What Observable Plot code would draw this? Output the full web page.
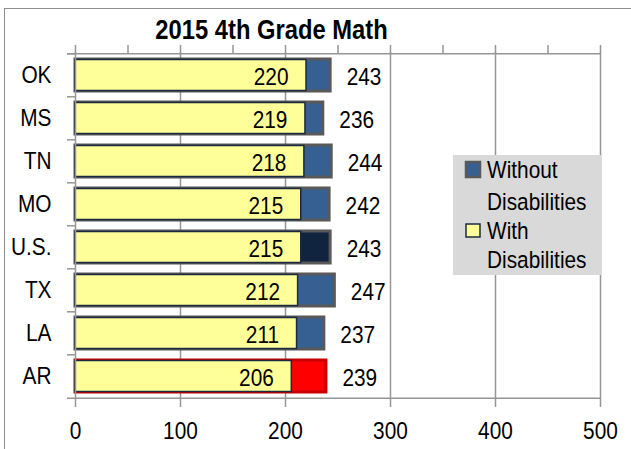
<!DOCTYPE html>
<html><head><meta charset="utf-8">
<script src="https://cdn.jsdelivr.net/npm/d3@7"></script>
<script src="https://cdn.jsdelivr.net/npm/@observablehq/plot@0.6"></script>
<style>
html,body{margin:0;padding:0;background:#fff;}
#wrap{position:relative;width:631px;height:449px;overflow:hidden;}
#border{position:absolute;left:4px;top:8px;width:700px;height:500px;border:1.5px solid #8f8f8f;}
#chart{position:absolute;left:0;top:0;}
</style></head><body>
<div id="wrap"><div id="border"></div><div id="chart"></div></div>
<script>
const states = ["OK", "MS", "TN", "MO", "U.S.", "TX", "LA", "AR"];
const withDisabilities = [220, 219, 218, 215, 215, 212, 211, 206];
const withoutDisabilities = [243, 236, 244, 242, 243, 247, 237, 239];
const xTicks = [0, 100, 200, 300, 400, 500];
const topTicks = [0, 50, 100, 150, 200, 250, 300, 350, 400, 450, 500];
const title = "2015 4th Grade Math";
const legendLabels = [["Without", "Disabilities"], ["With", "Disabilities"]];

const data = states.map((s, i) => ({state: s, with: withDisabilities[i], without: withoutDisabilities[i]}));
const FONT = "'Liberation Sans', Arial, sans-serif";
const W = 631, H = 449, mL = 75, mR = 31, mT = 52, mB = 50;
const step = (H - mT - mB) / states.length;
const GRID = "#969696";
const BLUE = "#366092", NAVY = "#10233F", RED = "#FF0000", YELLOW = "#FFFF99", EDGE = "#1B2A41";

const barFill = d => d.state === "U.S." ? NAVY : d.state === "AR" ? RED : BLUE;
const barStroke = d => d.state === "AR" ? "#C80000" : "#595959";
const last = states[states.length - 1];

const plot = Plot.plot({
  width: W, height: H, marginLeft: mL, marginRight: mR, marginTop: mT, marginBottom: mB,
  style: {fontFamily: FONT, fontSize: "24.5px", color: "#000", background: "transparent", overflow: "visible"},
  x: {domain: [0, 500]},
  y: {domain: states, paddingInner: 0.26, paddingOuter: 0.13, label: null},
  marks: [
    Plot.ruleX(xTicks.slice(1), {stroke: GRID, strokeWidth: 1.5}),
    Plot.axisX(topTicks, {anchor: "top", tickSize: 8, stroke: GRID, strokeWidth: 1.5, tickFormat: () => "", label: null}),
    Plot.axisX(xTicks, {anchor: "bottom", tickSize: 8, tickPadding: 14, stroke: GRID, strokeWidth: 1.5, fill: "#000", label: null}),
    Plot.axisY({anchor: "left", tickSize: 0, tickPadding: 24, fill: "#000", label: null}),
    Plot.ruleY(states, {y: d => d, dy: -step / 2, x1: 0, x2: 0, insetLeft: -8, stroke: GRID, strokeWidth: 1.5}),
    Plot.ruleY([states[0]], {y: d => d, dy: -step / 2, x1: 0, x2: 500, insetLeft: -8, stroke: GRID, strokeWidth: 1.5}),
    Plot.ruleY([last], {y: d => d, dy: step / 2, x1: 0, x2: 500, insetLeft: -8, stroke: GRID, strokeWidth: 1.5}),
    Plot.barX(data, {y: "state", x: "without", fill: barFill, stroke: barStroke, strokeWidth: 3}),
    Plot.barX(data, {y: "state", x: "with", fill: YELLOW, stroke: EDGE, strokeWidth: 1.5, insetTop: 0.5, insetBottom: 0.5}),
    Plot.ruleX([0], {stroke: GRID, strokeWidth: 1.5}),
    Plot.text(data, {y: "state", x: "with", text: d => String(d.with), textAnchor: "end", dx: -18, dy: 2, fill: "#000"}),
    Plot.text(data, {y: "state", x: "without", text: d => String(d.without), textAnchor: "start", dx: 16, dy: 2, fill: "#000"})
  ]
});
document.getElementById("chart").appendChild(plot);

const svg = d3.select(plot);
svg.append("text").attr("class", "ttl").attr("x", 271.5).attr("y", 39).attr("text-anchor", "middle")
  .attr("font-weight", "bold").attr("font-size", 27).attr("fill", "#000").attr("font-family", FONT).text(title);

const lg = svg.append("g").attr("font-family", FONT).attr("font-size", 24.5).attr("fill", "#000").attr("text-anchor", "start");
lg.append("rect").attr("x", 453).attr("y", 155).attr("width", 149).attr("height", 120).attr("fill", "#D9D9D9");
lg.append("rect").attr("x", 466).attr("y", 162).attr("width", 14).attr("height", 15).attr("fill", BLUE).attr("stroke", "#595959").attr("stroke-width", 2.5);
lg.append("rect").attr("x", 466).attr("y", 224).attr("width", 14).attr("height", 13).attr("fill", YELLOW).attr("stroke", EDGE).attr("stroke-width", 1.5);
const baselines = [[178, 210], [239, 268]];
legendLabels.forEach((lines, i) => lines.forEach((t, j) => {
  lg.append("text").attr("x", 487).attr("y", baselines[i][j]).text(t);
}));

// emulate a narrow typeface by compressing glyphs horizontally
svg.selectAll("text").each(function () {
  const w = this.getComputedTextLength();
  if (w > 0) {
    const k = this.getAttribute("class") === "ttl" ? 0.88 : 0.85;
    this.setAttribute("textLength", (w * k).toFixed(2));
    this.setAttribute("lengthAdjust", "spacingAndGlyphs");
  }
});
</script>
</body></html>
